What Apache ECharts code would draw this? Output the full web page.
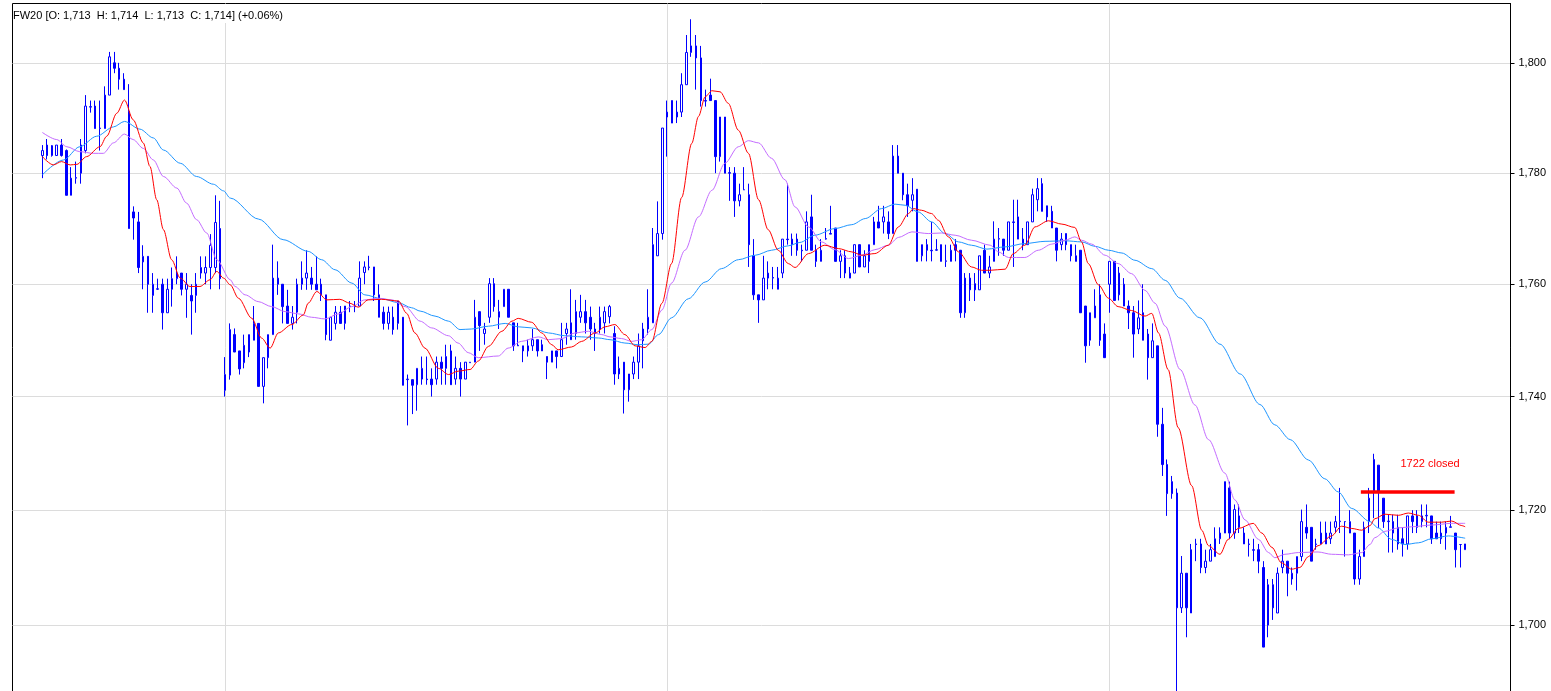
<!DOCTYPE html>
<html>
<head>
<meta charset="utf-8">
<script src="https://cdn.jsdelivr.net/npm/echarts@6/dist/echarts.min.js"></script>
<style>
html,body{margin:0;padding:0;background:#ffffff;}
#chart{width:1551px;height:691px;}
</style>
</head>
<body>
<div id="chart"></div>
<script>
const chartTitle = 'FW20 [O: 1,713  H: 1,714  L: 1,713  C: 1,714] (+0.06%)';

const opens = [
1783.2,1785.1,1783.2,1783.2,1785.1,1784.1,1776.0,1779.1,1780.0,1784.1,
1792.0,1792.2,1788.1,1788.1,1794.2,1800.1,1799.1,1797.1,1791.2,1773.0,
1771.2,1764.0,1765.0,1758.0,1759.1,1760.0,1754.9,1759.1,1761.0,1762.0,
1759.1,1758.0,1758.0,1762.0,1762.0,1763.0,1763.0,1770.0,1741.1,1743.8,
1751.0,1748.1,1746.0,1747.9,1750.0,1753.0,1741.8,1746.9,1751.0,1760.0,
1760.0,1756.1,1753.0,1755.0,1760.0,1761.1,1761.1,1760.0,1760.0,1758.1,
1750.0,1753.0,1755.0,1753.0,1756.0,1756.1,1756.1,1762.1,1763.0,1763.1,
1758.1,1755.0,1753.0,1754.1,1753.0,1754.1,1743.0,1743.0,1742.1,1743.1,
1743.1,1743.1,1743.1,1746.1,1745.0,1748.1,1743.1,1745.0,1743.1,1746.0,
1746.1,1755.1,1751.2,1754.1,1760.1,1754.1,1756.0,1759.1,1753.1,1749.0,
1749.0,1748.1,1749.0,1750.1,1749.2,1747.1,1746.1,1748.1,1747.1,1751.2,
1753.1,1751.2,1754.1,1755.1,1754.1,1751.2,1752.0,1753.1,1754.2,1751.2,
1744.0,1746.1,1741.2,1744.0,1746.1,1749.9,1752.0,1753.1,1765.1,1769.1,
1790.2,1793.2,1790.2,1791.1,1796.1,1802.0,1803.2,1801.0,1793.2,1794.2,
1793.2,1783.0,1790.2,1780.1,1780.0,1775.0,1777.0,1776.1,1765.1,1758.1,
1757.2,1761.1,1761.2,1759.1,1762.0,1768.1,1768.1,1768.1,1766.1,1766.1,
1772.1,1766.1,1764.1,1768.1,1769.1,1770.1,1764.1,1765.1,1761.1,1762.0,
1767.1,1763.1,1764.1,1767.1,1771.2,1771.2,1771.2,1769.1,1783.1,1780.0,
1776.1,1775.1,1777.1,1765.1,1767.1,1766.1,1766.1,1767.1,1764.1,1764.1,
1767.1,1766.1,1754.9,1761.1,1760.1,1759.0,1766.1,1762.0,1764.1,1768.1,
1768.1,1766.1,1771.2,1772.1,1768.1,1767.1,1771.2,1775.2,1778.1,1774.1,
1773.1,1770.1,1767.1,1769.1,1767.1,1765.1,1766.1,1756.1,1750.0,1754.0,
1758.1,1751.1,1760.0,1764.1,1758.1,1760.0,1756.1,1754.9,1752.0,1754.9,
1751.1,1746.9,1749.0,1735.1,1728.0,1725.0,1723.0,1703.0,1709.0,1702.1,
1714.1,1714.1,1710.0,1711.1,1711.9,1715.0,1716.0,1723.9,1716.0,1719.0,
1716.0,1714.1,1713.1,1713.1,1710.0,1700.0,1707.0,1702.1,1710.0,1711.1,
1708.0,1709.0,1711.9,1717.0,1717.0,1714.1,1714.1,1716.0,1715.0,1717.0,
1718.0,1718.0,1716.0,1716.0,1708.0,1711.9,1718.0,1723.2,1727.9,1722.1,
1718.0,1718.0,1717.0,1715.0,1714.1,1719.0,1719.0,1718.0,1719.0,1719.0,
1716.0,1715.0,1716.0,1717.0,1716.0,1714.0,1713.1
];

const closes = [
1784.1,1783.2,1785.0,1785.1,1783.2,1776.0,1779.1,1779.2,1785.1,1792.2,
1792.1,1788.1,1788.2,1794.2,1801.2,1799.1,1797.1,1795.2,1770.0,1771.9,
1763.0,1765.0,1760.0,1760.0,1759.2,1754.9,1759.1,1761.0,1762.0,1759.1,
1760.0,1757.0,1760.0,1763.0,1763.0,1767.0,1771.1,1761.0,1743.9,1751.9,
1747.9,1744.9,1749.1,1751.0,1753.0,1741.8,1746.9,1751.0,1761.1,1761.1,
1756.0,1753.0,1754.1,1760.0,1761.1,1762.0,1760.0,1759.0,1758.1,1751.0,
1754.1,1755.0,1753.0,1756.1,1756.1,1756.0,1761.1,1763.1,1763.1,1758.1,
1754.1,1753.0,1755.0,1751.9,1757.0,1742.0,1743.1,1742.0,1745.0,1745.0,
1743.0,1742.1,1746.1,1745.0,1747.1,1742.1,1745.0,1743.1,1746.1,1746.1,
1754.1,1752.6,1752.0,1760.1,1756.0,1755.1,1759.1,1754.1,1749.0,1749.1,
1748.1,1749.0,1750.1,1748.1,1748.1,1746.1,1748.1,1747.1,1750.1,1752.0,
1750.1,1755.1,1755.1,1753.1,1752.0,1752.0,1754.1,1755.1,1756.0,1744.0,
1745.0,1741.2,1744.0,1746.1,1749.0,1752.0,1754.1,1767.1,1769.1,1788.2,
1791.1,1789.1,1791.1,1796.1,1802.0,1803.2,1801.0,1793.2,1793.1,1793.2,
1783.0,1790.2,1780.0,1780.0,1775.0,1776.1,1777.0,1767.1,1758.1,1757.2,
1761.1,1762.0,1761.1,1761.1,1768.1,1768.0,1767.1,1766.1,1766.0,1771.2,
1766.1,1764.1,1766.1,1768.2,1769.0,1764.1,1765.1,1762.0,1762.0,1767.1,
1763.1,1765.1,1767.1,1771.2,1770.1,1772.1,1769.1,1783.1,1780.0,1776.1,
1774.1,1776.1,1764.1,1767.1,1766.1,1766.0,1766.2,1764.1,1764.2,1766.1,
1766.1,1754.9,1761.1,1759.0,1759.0,1765.1,1762.0,1763.1,1768.1,1768.2,
1766.1,1771.2,1771.1,1768.1,1767.1,1771.2,1776.1,1777.2,1773.1,1772.1,
1770.1,1766.1,1768.1,1767.1,1765.1,1764.1,1754.9,1749.0,1754.9,1756.1,
1750.0,1746.9,1764.1,1757.1,1762.0,1756.1,1754.9,1751.1,1754.0,1750.0,
1746.9,1749.9,1735.1,1728.0,1722.9,1722.9,1703.0,1709.0,1703.0,1713.1,
1714.0,1710.0,1711.1,1713.1,1715.0,1716.0,1725.0,1716.0,1720.1,1717.0,
1714.1,1714.0,1713.0,1711.1,1696.2,1707.0,1703.0,1709.0,1711.1,1709.0,
1709.0,1711.9,1718.0,1716.0,1711.1,1714.0,1716.0,1714.1,1716.0,1718.0,
1718.1,1718.0,1718.0,1708.0,1711.9,1717.0,1722.1,1728.9,1723.2,1718.0,
1718.1,1716.0,1714.1,1714.1,1719.0,1718.0,1717.0,1719.0,1719.1,1715.0,
1715.0,1716.0,1717.0,1717.1,1713.1,1714.0,1714.1
];

const lows = [
1779.1,1782.5,1783.0,1783.2,1783.0,1776.0,1776.0,1778.1,1778.1,1783.6,
1791.0,1788.1,1784.1,1788.1,1794.2,1798.2,1795.2,1795.2,1770.0,1768.0,
1762.0,1759.1,1754.9,1754.9,1759.0,1751.9,1754.9,1756.0,1760.0,1758.0,
1754.0,1751.0,1754.9,1761.0,1760.0,1759.1,1762.0,1759.1,1740.0,1743.0,
1747.9,1743.9,1745.0,1747.0,1750.0,1741.8,1738.8,1745.0,1751.0,1758.1,
1753.0,1753.0,1751.9,1753.0,1759.0,1759.0,1759.0,1759.0,1757.0,1750.0,
1750.0,1751.9,1753.0,1751.9,1755.0,1755.0,1756.1,1760.0,1762.5,1757.0,
1754.1,1751.9,1751.9,1751.0,1751.9,1742.0,1734.9,1736.9,1737.5,1742.1,
1742.1,1740.0,1742.1,1742.1,1742.1,1742.1,1742.1,1740.0,1743.1,1746.0,
1746.1,1748.1,1749.2,1753.1,1755.1,1752.0,1756.0,1754.1,1748.1,1749.0,
1746.1,1747.1,1748.1,1747.1,1748.1,1743.1,1746.1,1745.0,1747.1,1749.2,
1750.1,1750.1,1753.1,1751.2,1750.1,1748.1,1751.2,1751.2,1753.0,1742.1,
1743.1,1737.0,1739.1,1743.1,1743.1,1745.0,1751.0,1753.1,1765.1,1768.0,
1783.0,1789.1,1789.1,1790.2,1796.1,1801.2,1795.2,1792.1,1792.1,1793.2,
1780.0,1782.1,1780.0,1775.0,1772.1,1774.0,1777.0,1763.1,1757.2,1753.1,
1757.2,1759.1,1759.1,1759.1,1761.1,1767.1,1765.1,1765.1,1764.1,1766.1,
1766.1,1763.1,1764.1,1768.0,1769.0,1764.1,1761.1,1761.1,1761.1,1762.0,
1763.1,1763.1,1762.0,1767.1,1770.1,1769.1,1768.1,1769.1,1780.0,1775.1,
1772.1,1773.1,1764.1,1764.1,1764.1,1764.1,1766.0,1764.1,1763.1,1764.1,
1764.1,1754.0,1754.0,1757.0,1757.0,1759.0,1762.0,1761.1,1764.1,1765.1,
1765.1,1766.1,1763.1,1768.1,1766.1,1767.1,1771.2,1773.1,1773.1,1771.2,
1770.1,1764.1,1766.1,1766.1,1764.1,1764.1,1754.9,1746.0,1749.0,1754.0,
1749.0,1746.9,1754.9,1757.1,1757.1,1756.1,1752.0,1746.9,1751.1,1750.0,
1743.0,1746.9,1732.9,1726.0,1719.0,1722.0,1688.0,1702.1,1697.9,1702.1,
1711.1,1709.0,1709.0,1711.1,1711.9,1714.1,1716.0,1715.0,1715.0,1716.0,
1714.1,1711.9,1711.1,1709.0,1696.2,1697.9,1700.9,1702.1,1709.0,1705.0,
1707.0,1706.0,1711.1,1715.0,1711.1,1713.1,1714.1,1714.1,1714.1,1716.0,
1716.0,1711.9,1716.0,1707.0,1707.0,1711.9,1716.0,1718.6,1716.9,1716.9,
1712.6,1712.6,1713.1,1711.9,1713.1,1716.0,1716.0,1717.0,1717.0,1714.1,
1715.0,1714.1,1713.1,1717.0,1710.0,1710.0,1713.1
];

const highs = [
1785.1,1786.2,1785.1,1785.1,1786.2,1784.3,1781.1,1782.1,1786.2,1794.2,
1793.2,1793.2,1793.2,1795.8,1802.1,1802.1,1800.1,1798.2,1796.2,1774.0,
1773.0,1767.0,1765.0,1762.0,1761.0,1761.0,1761.0,1763.0,1765.0,1762.0,
1762.0,1760.0,1762.0,1765.0,1765.0,1769.0,1776.0,1775.0,1747.0,1753.0,
1752.1,1748.1,1751.0,1751.0,1756.1,1753.0,1746.9,1751.0,1767.1,1764.1,
1760.0,1759.0,1756.1,1761.0,1764.1,1766.1,1763.1,1765.0,1761.0,1758.1,
1754.1,1756.1,1756.1,1756.1,1757.0,1757.0,1764.1,1764.1,1765.1,1763.1,
1760.0,1756.0,1756.0,1756.0,1757.0,1754.1,1743.9,1743.0,1745.0,1747.1,
1747.1,1745.0,1747.1,1747.1,1749.2,1749.2,1747.1,1746.1,1746.1,1746.1,
1757.2,1755.1,1753.1,1761.1,1761.1,1757.2,1759.1,1759.1,1753.1,1753.1,
1749.0,1750.1,1752.0,1750.1,1750.1,1747.1,1748.1,1748.1,1753.1,1753.1,
1759.1,1757.2,1758.1,1757.2,1756.0,1753.1,1756.0,1756.0,1756.3,1752.5,
1747.1,1746.1,1744.0,1747.1,1751.2,1753.1,1759.1,1770.1,1774.9,1788.2,
1793.2,1793.2,1793.2,1798.2,1805.2,1808.1,1805.2,1803.2,1795.2,1797.2,
1793.2,1790.2,1790.2,1781.1,1781.1,1778.1,1781.1,1778.1,1768.1,1758.1,
1765.1,1764.1,1763.1,1763.1,1768.1,1778.1,1769.1,1769.1,1767.1,1773.1,
1776.1,1767.1,1768.1,1770.1,1774.1,1770.1,1766.1,1766.1,1763.1,1767.1,
1767.1,1766.1,1767.1,1772.1,1774.1,1774.1,1773.1,1785.1,1785.1,1780.0,
1778.1,1779.1,1777.1,1767.1,1768.1,1771.2,1768.1,1767.1,1767.1,1767.1,
1768.1,1766.1,1762.0,1762.0,1762.0,1765.1,1767.1,1765.1,1771.3,1770.1,
1768.1,1771.2,1775.2,1775.2,1770.1,1771.2,1777.2,1779.1,1779.1,1774.1,
1774.1,1770.1,1769.2,1769.1,1767.1,1767.1,1766.1,1756.1,1754.9,1759.1,
1760.0,1753.0,1764.1,1764.1,1763.1,1761.1,1757.1,1756.1,1757.1,1760.0,
1752.0,1753.0,1749.0,1738.0,1728.9,1726.0,1723.8,1712.0,1709.0,1714.1,
1715.0,1715.0,1713.1,1714.1,1717.0,1717.0,1725.0,1725.0,1721.0,1721.0,
1717.0,1715.0,1715.0,1714.1,1711.1,1708.0,1708.0,1710.0,1713.1,1711.1,
1710.0,1711.9,1720.1,1721.0,1717.0,1715.0,1718.0,1718.0,1718.0,1719.0,
1723.9,1718.0,1720.0,1716.0,1713.1,1718.0,1723.9,1729.9,1727.9,1722.1,
1719.2,1719.2,1719.2,1717.0,1719.0,1720.0,1720.0,1721.0,1721.0,1719.0,
1718.0,1718.0,1718.0,1719.0,1716.0,1714.0,1714.1
];

// moving-average lines: [candle index, value]
const maFast = [
[0,1783.0],[2.3,1781.5],[4.0,1782.1],[5.8,1781.5],[7.2,1781.6],[9.2,1783.0],[12.0,1784.8],[13.4,1786.7],[15.5,1790.9],[17.1,1793.3],
[18.9,1789.7],[21.0,1785.5],[22.4,1781.2],[23.8,1775.2],[25.2,1769.8],[26.9,1764.4],[28.7,1761.1],[30.7,1759.6],[32.8,1759.6],[34.9,1760.8],
[36.3,1762.3],[37.7,1761.1],[39.1,1759.9],[40.8,1757.5],[43.6,1753.9],[45.6,1750.4],[47.4,1748.6],[49.1,1751.3],[51.9,1752.8],[54.3,1754.5],
[55.3,1756.6],[57.1,1758.7],[59.2,1757.2],[61.9,1757.3],[64.0,1756.6],[65.7,1755.9],[67.8,1757.2],[70.6,1757.3],[74.1,1757.0],[75.8,1754.8],
[77.5,1751.3],[79.6,1748.6],[82.4,1745.0],[84.5,1743.9],[86.5,1744.5],[89.0,1744.8],[90.7,1746.3],[92.8,1748.9],[95.6,1751.6],[97.7,1753.4],
[99.0,1753.9],[101.8,1753.2],[103.9,1751.3],[106.0,1749.2],[107.3,1748.3],[110.1,1748.8],[112.2,1749.8],[115.0,1751.3],[117.1,1752.4],[119.1,1752.8],
[121.2,1751.0],[123.3,1749.0],[125.4,1748.7],[126.8,1749.8],[128.9,1756.6],[130.9,1763.7],[133.0,1775.6],[135.1,1785.4],[136.5,1790.3],[137.9,1793.9],
[139.3,1795.0],[141.0,1794.8],[142.7,1792.7],[144.8,1787.8],[146.9,1783.6],[149.0,1775.2],[151.0,1769.8],[153.1,1766.1],[155.2,1763.7],[156.6,1763.0],
[159.4,1765.5],[162.8,1767.0],[165.6,1766.4],[168.4,1765.8],[170.5,1765.2],[173.2,1765.5],[176.0,1767.0],[178.1,1770.3],[180.2,1772.7],[181.2,1773.6],
[182.9,1773.3],[185.0,1772.7],[186.4,1771.5],[188.5,1768.5],[190.6,1765.8],[193.3,1763.1],[195.4,1762.5],[197.2,1762.5],[200.3,1762.7],[202.0,1765.5],
[204.4,1767.0],[206.5,1770.3],[209.3,1771.4],[212.1,1770.8],[214.8,1770.2],[216.2,1767.6],[217.6,1763.7],[219.7,1759.9],[221.8,1757.5],[223.8,1756.0],
[226.6,1755.3],[229.4,1754.3],[230.8,1754.8],[232.2,1751.3],[234.2,1744.8],[236.3,1734.5],[239.1,1724.3],[241.2,1716.5],[242.6,1713.8],[245.0,1712.3],
[246.7,1714.9],[248.8,1716.8],[251.9,1717.7],[253.7,1716.0],[255.8,1713.5],[257.8,1710.8],[259.9,1709.7],[261.6,1710.0],[263.4,1711.9],[265.4,1713.8],
[268.2,1715.5],[270.3,1717.2],[272.4,1716.8],[274.5,1716.5],[276.2,1717.3],[277.2,1718.5],[279.3,1719.3],[282.1,1719.1],[284.2,1719.5],[286.3,1719.1],
[288.3,1717.9],[291.1,1717.9],[293.2,1718.1],[295.3,1717.3],[296.0,1717.1]
];

const maMid = [
[0,1787.4],[3.0,1786.1],[5.1,1784.8],[7.8,1783.9],[10.6,1783.6],[12.7,1783.6],[14.8,1785.5],[17.1,1787.1],[18.9,1786.1],[21.0,1784.5],
[23.1,1782.4],[25.2,1779.4],[28.0,1777.3],[30.0,1774.6],[32.1,1771.6],[34.2,1769.2],[36.3,1764.4],[39.1,1760.8],[40.1,1759.6],[42.2,1758.1],
[44.9,1756.9],[47.7,1756.0],[50.5,1755.1],[53.3,1754.7],[56.0,1754.1],[58.8,1753.8],[61.6,1754.7],[64.4,1756.0],[67.1,1757.2],[69.9,1757.5],
[72.7,1757.2],[75.5,1756.0],[78.6,1753.4],[81.0,1752.2],[84.5,1750.8],[86.5,1749.5],[88.6,1747.8],[90.7,1746.9],[94.9,1747.2],[96.9,1748.6],
[99.7,1749.8],[103.2,1750.6],[105.3,1750.1],[108.1,1750.3],[110.8,1751.3],[113.6,1751.6],[116.4,1751.0],[118.1,1750.6],[120.5,1750.3],[122.6,1749.8],
[124.7,1750.1],[126.8,1751.9],[128.9,1755.4],[130.9,1760.2],[133.7,1766.1],[136.5,1772.1],[139.3,1776.9],[142.0,1781.8],[144.8,1784.8],[146.9,1785.9],
[149.0,1785.5],[151.7,1782.7],[154.5,1778.8],[156.6,1773.9],[159.4,1770.3],[162.1,1767.6],[164.9,1766.2],[167.7,1764.6],[170.5,1765.2],[173.2,1766.2],
[176.0,1767.0],[178.1,1768.4],[180.9,1769.4],[184.3,1769.1],[187.1,1769.2],[189.9,1768.8],[193.3,1767.9],[197.2,1767.0],[198.9,1765.8],[201.0,1764.8],
[204.4,1764.8],[207.2,1766.1],[210.0,1767.2],[212.8,1767.9],[214.8,1768.5],[216.2,1767.9],[218.3,1767.2],[221.1,1765.2],[223.8,1763.7],[226.6,1761.9],
[229.4,1758.9],[231.5,1756.6],[233.6,1752.5],[236.7,1744.8],[239.8,1738.5],[242.6,1732.4],[246.0,1726.5],[248.1,1721.8],[250.2,1718.3],[253.0,1714.9],
[255.1,1712.6],[256.4,1711.7],[258.5,1712.3],[261.3,1712.6],[265.4,1712.7],[268.2,1712.3],[271.7,1712.2],[274.5,1712.6],[276.2,1714.0],[277.2,1715.2],
[279.3,1716.3],[282.1,1716.9],[284.9,1717.1],[289.0,1717.4],[293.2,1717.7],[296.0,1717.7]
];

const maSlow = [
[0,1779.7],[4.4,1782.4],[7.8,1784.8],[11.3,1786.7],[14.8,1788.4],[17.1,1789.4],[20.3,1788.0],[23.1,1786.4],[25.2,1784.2],[28.7,1781.8],
[32.1,1779.4],[35.6,1778.0],[37.7,1776.8],[39.1,1775.5],[45.0,1771.7],[50.1,1768.0],[55.3,1765.9],[58.1,1764.4],[60.9,1762.6],[64.4,1760.2],
[67.1,1758.1],[70.6,1757.4],[74.1,1756.7],[76.8,1755.8],[78.6,1755.2],[81.7,1754.3],[84.5,1753.4],[86.9,1751.9],[89.3,1752.0],[92.8,1752.5],
[96.3,1753.0],[99.0,1752.4],[101.8,1752.2],[105.3,1751.3],[108.7,1750.8],[112.2,1750.6],[115.7,1750.4],[118.1,1750.1],[121.2,1749.5],[124.0,1749.2],
[126.1,1749.3],[128.2,1751.0],[130.9,1754.0],[134.4,1757.4],[137.9,1760.4],[141.3,1762.8],[144.8,1764.4],[148.3,1765.2],[151.7,1766.1],[155.2,1766.9],
[157.6,1767.5],[160.7,1768.8],[164.9,1770.0],[168.4,1770.7],[171.2,1771.8],[174.6,1773.6],[177.4,1774.4],[179.5,1774.2],[182.2,1773.0],[185.0,1771.2],
[187.8,1769.1],[190.6,1767.6],[193.3,1767.0],[196.5,1766.3],[200.3,1766.7],[204.4,1767.3],[208.6,1767.7],[212.8,1767.8],[216.2,1767.6],[219.0,1766.8],
[221.8,1766.1],[224.6,1765.6],[227.3,1764.3],[230.8,1762.8],[233.6,1760.7],[236.7,1757.5],[240.8,1754.0],[245.0,1749.3],[249.2,1744.0],[253.3,1738.6],
[256.4,1735.0],[259.6,1732.4],[263.4,1728.8],[266.8,1725.5],[269.6,1723.2],[272.4,1720.3],[276.2,1718.0],[277.9,1716.9],[280.7,1714.9],[283.5,1714.0],
[286.3,1714.3],[289.0,1715.0],[292.5,1715.5],[296.0,1715.1]
];

const yTicks = [1700, 1720, 1740, 1760, 1780, 1800];
const periodStarts = [38, 130, 222];
const closedLevel = 1723.2;
const closedFrom = 274.3;
const closedTo = 293.8;
const noteText = '1722 closed';
const noteAt = [288.7, 1728.1];

const candles = opens.map((o, i) => [i, o, closes[i], lows[i], highs[i]]);
const fmt = v => String(Math.round(v)).replace(/\B(?=(\d{3})+(?!\d))/g, ',');
const FONT = '"Liberation Sans", Arial, sans-serif';

const chart = echarts.init(document.getElementById('chart'), null, {renderer: 'canvas'});
chart.setOption({
  animation: false,
  backgroundColor: '#ffffff',
  title: {
    text: chartTitle,
    left: 13, top: 4,
    padding: [5, 3, 1, 0],
    backgroundColor: '#ffffff',
    textStyle: {fontSize: 11, fontWeight: 'normal', color: '#000000', fontFamily: FONT, lineHeight: 13}
  },
  grid: {
    left: 12.5, right: 40.5, top: 3.5, bottom: -2,
    show: true, borderColor: '#000000', borderWidth: 1, backgroundColor: 'transparent',
    containLabel: false, outerBoundsMode: 'none'
  },
  xAxis: {
    type: 'value', min: -6.2, max: 305.43,
    axisLine: {show: false},
    axisTick: {show: false, customValues: periodStarts},
    axisLabel: {show: false, customValues: periodStarts},
    splitLine: {show: true, lineStyle: {color: '#dcdcdc', width: 1}}
  },
  yAxis: {
    type: 'log', logBase: 10, position: 'right', min: 1688.3, max: 1811.0,
    axisLine: {show: true, onZero: false, lineStyle: {color: '#000000', width: 1}},
    axisTick: {show: true, customValues: yTicks, length: 4, inside: false, lineStyle: {color: '#000000'}},
    axisLabel: {show: true, customValues: yTicks, margin: 8, color: '#000000', fontSize: 11, fontFamily: FONT, formatter: fmt},
    splitLine: {show: true, lineStyle: {color: '#dcdcdc', width: 1}}
  },
  series: [
    {
      type: 'candlestick',
      data: candles,
      encode: {x: 0, y: [1, 2, 3, 4]},
      barWidth: 2,
      clip: true,
      silent: true,
      itemStyle: {
        color: '#ffffff', color0: '#0000ff',
        borderColor: '#0000ff', borderColor0: '#0000ff', borderColorDoji: '#0000ff',
        borderWidth: 1
      },
      markLine: {
        silent: true, symbol: ['none', 'none'], animation: false,
        label: {show: false},
        lineStyle: {color: '#ff0000', width: 3.5, type: 'solid'},
        data: [[{coord: [closedFrom, closedLevel]}, {coord: [closedTo, closedLevel]}]]
      },
      markPoint: {
        silent: true, animation: false,
        symbol: 'circle', symbolSize: 1,
        itemStyle: {color: 'rgba(0,0,0,0)'},
        label: {show: true, position: 'inside', formatter: noteText, color: '#ff0000', fontSize: 11, fontFamily: FONT},
        data: [{coord: noteAt}]
      }
    },
    {type: 'line', data: maSlow, symbol: 'none', smooth: 0.3, smoothMonotone: 'x', silent: true, z: 3,
     lineStyle: {color: '#1e96ff', width: 1}},
    {type: 'line', data: maMid, symbol: 'none', smooth: 0.3, smoothMonotone: 'x', silent: true, z: 3,
     lineStyle: {color: '#c46cff', width: 1}},
    {type: 'line', data: maFast, symbol: 'none', smooth: 0.3, smoothMonotone: 'x', silent: true, z: 4,
     lineStyle: {color: '#ff0000', width: 1}}
  ]
});
</script>
</body>
</html>
